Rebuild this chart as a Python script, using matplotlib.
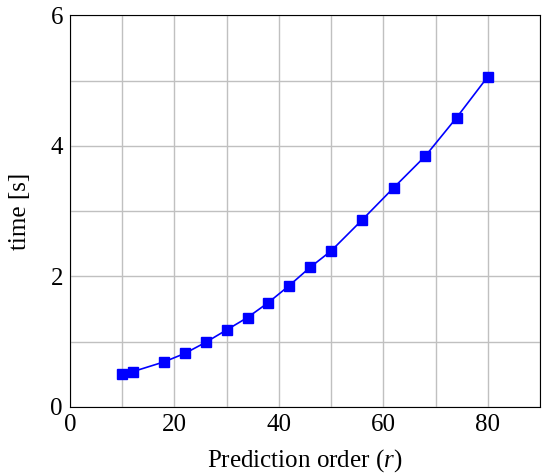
import matplotlib
matplotlib.use("Agg")
import matplotlib.pyplot as plt
from matplotlib.ticker import MultipleLocator

order = [10, 12, 18, 22, 26, 30, 34, 38, 42, 46, 50, 56, 62, 68, 74, 80]
time_s = [0.50, 0.54, 0.69, 0.82, 0.99, 1.18, 1.37, 1.60, 1.86, 2.14, 2.39, 2.87, 3.36, 3.84, 4.43, 5.06]

plt.rcParams['font.family'] = ['Liberation Serif', 'DejaVu Serif']
plt.rcParams['mathtext.fontset'] = 'custom'
plt.rcParams['mathtext.it'] = 'Liberation Serif:italic'
plt.rcParams['mathtext.rm'] = 'Liberation Serif'

fig = plt.figure(figsize=(5.5, 4.76), dpi=100)
ax = fig.add_axes([0.127, 0.145, 0.855, 0.823])

ax.plot(order, time_s, color='blue', lw=1.2, marker='s', markersize=7.5,
        markerfacecolor='blue', markeredgecolor='blue', zorder=3)

ax.set_xlim(0, 90)
ax.set_ylim(0, 6)
ax.xaxis.set_major_locator(MultipleLocator(20))
ax.xaxis.set_minor_locator(MultipleLocator(10))
ax.yaxis.set_major_locator(MultipleLocator(2))
ax.yaxis.set_minor_locator(MultipleLocator(1))
ax.grid(True, which='both', color='#c0c0c0', lw=1.0, zorder=0)
ax.set_axisbelow(True)
ax.tick_params(which='both', direction='in', length=0, labelsize=18, pad=5)
for s in ax.spines.values():
    s.set_linewidth(0.8)
    s.set_color('black')

ax.set_xlabel(r'Prediction order ($r$)', fontsize=18, labelpad=8)
ax.set_ylabel('time [s]', fontsize=18, labelpad=14)

fig.savefig('out.png', dpi=100)
